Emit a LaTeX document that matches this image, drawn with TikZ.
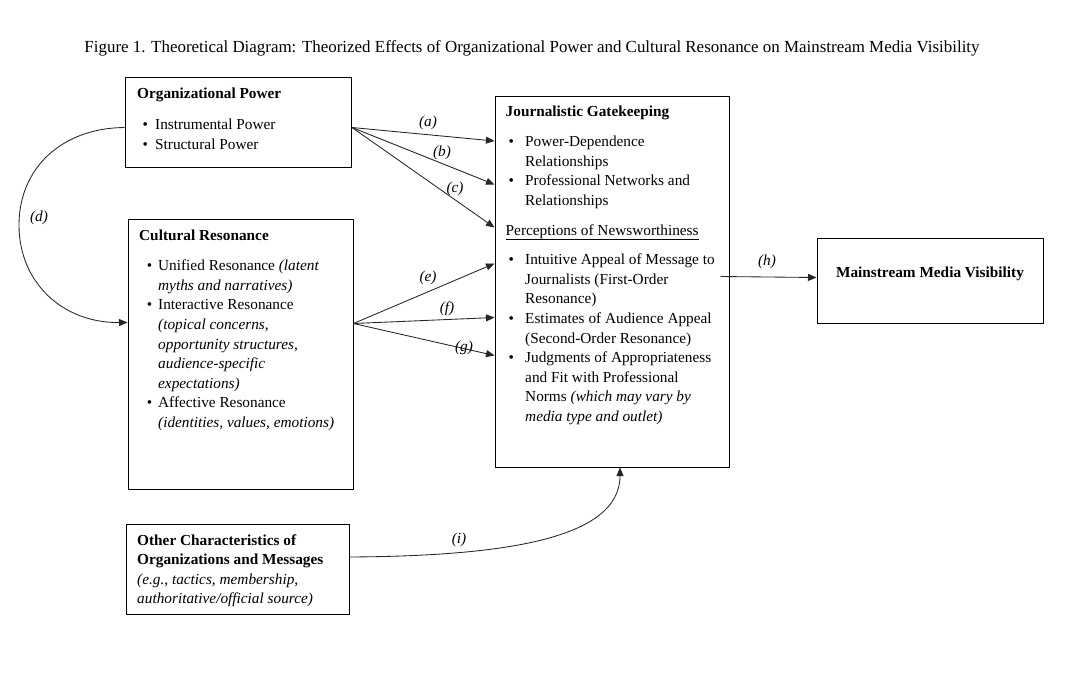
\documentclass[tikz,border=0pt]{standalone}
\usepackage{fontspec}
\setmainfont{Liberation Serif}
\usetikzlibrary{arrows.meta,calc}
\newcommand\itm[3]{\hspace*{#1}\makebox[#2][l]{\textbullet}#3}
\newcommand\cnt[2]{\hspace*{#1}#2}
\begin{document}
\begin{tikzpicture}[x=1pt,y=-1pt,
  box/.style={draw=black,line width=1pt,inner sep=0pt},
  txt/.style={inner sep=0pt,anchor=base west,font=\fontsize{15.3}{19.6}\selectfont},
  lbl/.style={inner sep=0pt,font=\fontsize{15.3}{18}\selectfont\itshape},
  conn/.style={draw=black!85,line width=0.85pt,-{Triangle[length=8.5pt,width=7pt]}},
  plainconn/.style={draw=black!85,line width=0.85pt}]
\useasboundingbox (0,0) rectangle (1081,675);
\fill[white] (0,0) rectangle (1081,675);

% title
\node[inner sep=0pt,anchor=base,font=\fontsize{15.3}{18}\selectfont] (ttl) at (532,52)
  {\resizebox{895pt}{!}{Figure 1. Theoretical Diagram: Theorized Effects of Organizational Power and Cultural Resonance on Mainstream Media Visibility}};

% boxes
\node[box,minimum width=226.5pt,minimum height=90pt] (op) at (238.25,122) {};
\node[box,minimum width=225pt,minimum height=270pt] (cr) at (240.5,354) {};
\node[box,minimum width=234pt,minimum height=371pt] (jg) at (612,281.5) {};
\node[box,minimum width=226pt,minimum height=85pt] (mmv) at (930,280.5) {};
\node[box,minimum width=223.5pt,minimum height=90pt] (oth) at (237.75,569) {};

% texts
\node[txt] (opT) at (137,98) {\begin{tabular}[t]{@{}l@{}}
\textbf{Organizational Power}\\[12pt]
\itm{5.3pt}{12.7pt}{Instrumental Power}\\
\itm{5.3pt}{12.7pt}{Structural Power}
\end{tabular}};

\node[txt] (crT) at (139,240) {\begin{tabular}[t]{@{}l@{}}
\textbf{Cultural Resonance}\\[11pt]
\itm{7.6pt}{11.4pt}{Unified Resonance \textit{(latent}}\\
\cnt{19pt}{\textit{myths and narratives)}}\\
\itm{7.6pt}{11.4pt}{Interactive Resonance}\\
\cnt{19pt}{\textit{(topical concerns,}}\\
\cnt{19pt}{\textit{opportunity structures,}}\\
\cnt{19pt}{\textit{audience-specific}}\\
\cnt{19pt}{\textit{expectations)}}\\
\itm{7.6pt}{11.4pt}{Affective Resonance}\\
\cnt{19pt}{\textit{(identities, values, emotions)}}
\end{tabular}};

\node[txt] (jgT) at (505.5,116) {\begin{tabular}[t]{@{}l@{}}
\textbf{Journalistic Gatekeeping}\\[11pt]
\itm{2.8pt}{16.7pt}{Power-Dependence}\\
\cnt{19.5pt}{Relationships}\\
\itm{2.8pt}{16.7pt}{Professional Networks and}\\
\cnt{19.5pt}{Relationships}\\[10pt]
\underline{Perceptions of Newsworthiness}\\[10pt]
\itm{2.8pt}{16.7pt}{Intuitive Appeal of Message to}\\
\cnt{19.5pt}{Journalists (First-Order}\\
\cnt{19.5pt}{Resonance)}\\
\itm{2.8pt}{16.7pt}{Estimates of Audience Appeal}\\
\cnt{19.5pt}{(Second-Order Resonance)}\\
\itm{2.8pt}{16.7pt}{Judgments of Appropriateness}\\
\cnt{19.5pt}{and Fit with Professional}\\
\cnt{19.5pt}{Norms \textit{(which may vary by}}\\
\cnt{19.5pt}{\textit{media type and outlet)}}
\end{tabular}};

\node[inner sep=0pt,anchor=base,font=\fontsize{15.3}{19.6}\selectfont] (mmvT) at (930,277)
  {\textbf{Mainstream Media Visibility}};

\node[txt] (othT) at (137,545) {\begin{tabular}[t]{@{}l@{}}
\textbf{Other Characteristics of}\\
\textbf{Organizations and Messages}\\
\textit{(e.g., tactics, membership,}\\
\textit{authoritative/official source)}
\end{tabular}};

% connector end points
\coordinate (opR) at ($(op.north east)+(0,51)$);
\coordinate (opL) at ($(op.north west)+(0,51)$);
\coordinate (crR) at ($(cr.north east)+(0,105)$);
\coordinate (crL) at ($(cr.north west)+(0,104)$);
\coordinate (jgA) at ($(jg.north west)+(0,45.5)$);
\coordinate (jgB) at ($(jg.north west)+(0,89)$);
\coordinate (jgC) at ($(jg.north west)+(0,132)$);
\coordinate (jgE) at ($(jg.north west)+(0,168)$);
\coordinate (jgF) at ($(jg.north west)+(0,222)$);
\coordinate (jgG) at ($(jg.north west)+(0,260)$);
\coordinate (jgH) at ($(jg.north east)+(-9,181)$);
\coordinate (mmvL) at ($(mmv.north west)+(0,40)$);
\coordinate (jgBot) at ($(jg.south)+(8,0)$);
\coordinate (othR) at ($(oth.east)+(0,-12)$);

% connectors
\draw[conn] (opR) -- (jgA);
\draw[conn] (opR) -- (jgB);
\draw[conn] (opR) -- (jgC);
\draw[conn] (crR) -- (jgE);
\draw[conn] (crR) -- (jgF);
\draw[conn] (crR) -- (jgG);
\draw[conn] (jgH) -- (mmvL);
\draw[conn] (opL) .. controls (62,128) and (19,168) .. (19,225)
               .. controls (19,282) and (62,323) .. (crL);
\draw[conn] (othR) .. controls (500,556) and (620,540) .. (jgBot);

% labels
\node[lbl] (la) at (428,123) {(a)};
\node[lbl] (lb) at (442,153) {(b)};
\node[lbl] (lc) at (455,189) {(c)};
\node[lbl] (ld) at (39,218) {(d)};
\node[lbl] (le) at (428,278) {(e)};
\node[lbl] (lf) at (447,309) {(f)};
\node[lbl] (lg) at (464,348) {(g)};
\node[lbl] (lh) at (767,262) {(h)};
\node[lbl] (li) at (459,540) {(i)};
\end{tikzpicture}
\end{document}
